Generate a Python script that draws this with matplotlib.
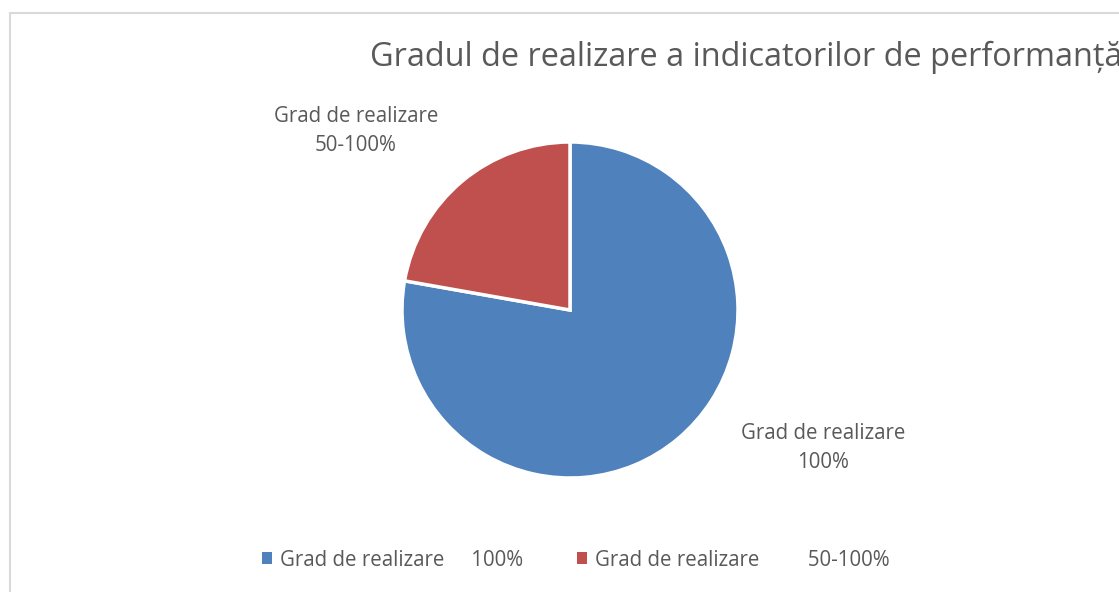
import matplotlib.pyplot as plt
from matplotlib.patches import Rectangle, Patch

# data
labels = ['Grad de realizare     100%', 'Grad de realizare         50-100%']
label_text = ['Grad de realizare\n100%', 'Grad de realizare\n50-100%']
values = [7, 2]
colors = ['#4F81BD', '#C0504D']
title = 'Gradul de realizare a indicatorilor de performanță'

W, H = 1119, 592
fig = plt.figure(figsize=(W / 100, H / 100), dpi=100)
fig.patch.set_facecolor('white')
plt.rcParams['font.family'] = ['Open Sans', 'DejaVu Sans']
txt_color = '#595959'

# chart border (runs off right and bottom)
fig.patches.append(Rectangle((10 / W, -0.1), 1.2, 1 - 13 / H + 0.1,
                             transform=fig.transFigure, fill=False,
                             edgecolor='#d9d9d9', linewidth=1.5))

# pie
cx, cy, r = 570, 310, 168
ax = fig.add_axes([(cx - r) / W, (H - cy - r) / H, 2 * r / W, 2 * r / H])
wedges, _ = ax.pie(values, colors=colors, startangle=90, counterclock=False,
                   radius=1, wedgeprops=dict(edgecolor='white', linewidth=2.5))
ax.set_xlim(-1, 1)
ax.set_ylim(-1, 1)
ax.set_aspect('auto')
ax.axis('off')

# data labels
fig.text(823 / W, 1 - 448 / H, label_text[0], ha='center', va='center',
         fontsize=14.8, color=txt_color, linespacing=1.55)
fig.text(356 / W, 1 - 131 / H, label_text[1], ha='center', va='center',
         fontsize=14.8, color=txt_color, linespacing=1.55)

# title (runs past the right edge, as in the original)
fig.text(370 / W, 1 - 57 / H, title, ha='left', va='center',
         fontsize=23.4, color=txt_color)

# legend
handles = [Patch(facecolor=c, edgecolor='none') for c in colors]
fig.legend(handles, labels, loc='center', bbox_to_anchor=(576 / W, 1 - 560 / H),
           ncol=2, frameon=False, fontsize=14.8, labelcolor=txt_color,
           handlelength=0.5, handleheight=0.5, handletextpad=0.4,
           columnspacing=2.6)

fig.savefig('out.png', dpi=100, facecolor='white')
